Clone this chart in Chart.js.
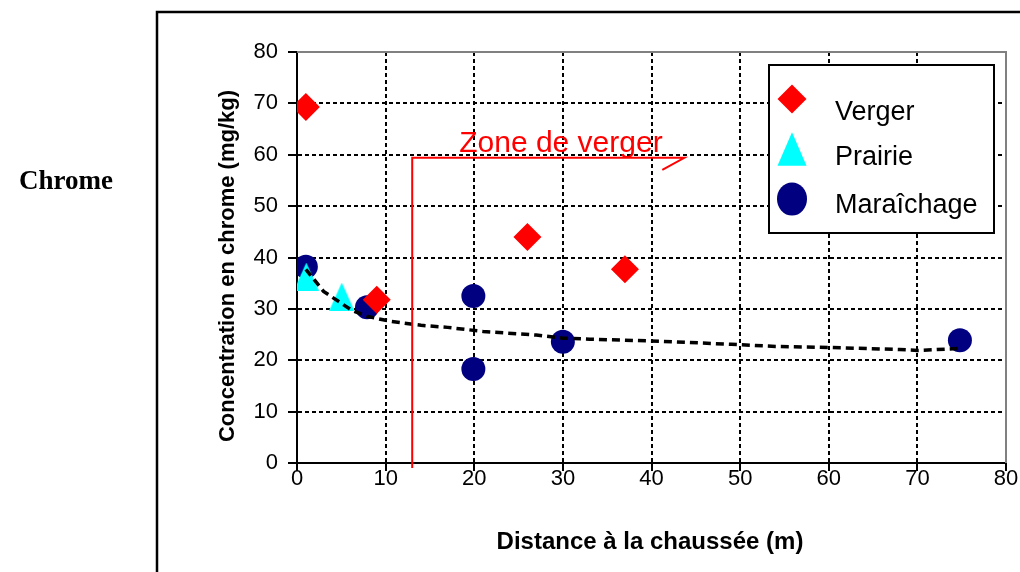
<!DOCTYPE html>
<html>
<head>
<meta charset="utf-8">
<script src="https://cdn.jsdelivr.net/npm/chart.js@4/dist/chart.umd.min.js"></script>
<style>
  body { margin: 0; background: #fff; }
  canvas { display: block; }
</style>
</head>
<body>
<canvas id="mychart" width="1020" height="572"></canvas>
<script>
// data
var xTicks = [0, 10, 20, 30, 40, 50, 60, 70, 80];
var yTicks = [0, 10, 20, 30, 40, 50, 60, 70, 80];

var vergerX = [1, 9, 26, 37];
var vergerY = [69.3, 31.8, 44, 37.7];

var prairieX = [1.05, 5.05];
var prairieY = [36.3, 32.4];

var maraichageX = [1, 7.9, 19.9, 19.9, 30, 74.8];
var maraichageY = [38.2, 30.3, 32.5, 18.3, 23.6, 23.9];

// dashed trend line
var trendX = [1, 3, 6.2, 8, 10.5, 14, 17, 21, 27, 30, 33, 41, 49, 54, 60, 68, 70, 75];
var trendY = [37.7, 33.4, 29.7, 28.5, 27.6, 26.8, 26.4, 25.6, 24.9, 24.3, 24.1, 23.7, 23.1, 22.7, 22.5, 22.1, 21.9, 22.3];

// "Zone de verger" annotation (data units)
var zoneX = 13;
var zoneY = 59.4;
var zoneArrowX = 43.7;
var zoneLabelX = 18.3;

var labels = ['Verger', 'Prairie', 'Maraîchage'];
var colorbox = ['#ff0000', '#00ffff', '#000080'];

function toPoints(xs, ys) {
    var pts = [];
    for (var i = 0; i < xs.length; i++) {
        pts.push({ x: xs[i], y: ys[i] });
    }
    return pts;
}

var FONT = '"Liberation Sans", Arial, sans-serif';

// taller-than-wide triangle like the original marker
function triangleImage(w, h, color) {
    var c = document.createElement('canvas');
    c.width = w;
    c.height = h;
    var g = c.getContext('2d');
    g.fillStyle = color;
    g.beginPath();
    g.moveTo(w / 2, 0);
    g.lineTo(w, h);
    g.lineTo(0, h);
    g.closePath();
    g.fill();
    return c;
}

function drawMarker(ctx, style, x, y, r, color) {
    ctx.save();
    ctx.fillStyle = color;
    ctx.beginPath();
    if (style == 'rectRot') {
        ctx.moveTo(x, y - r);
        ctx.lineTo(x + r, y);
        ctx.lineTo(x, y + r);
        ctx.lineTo(x - r, y);
    } else if (style == 'triangle') {
        ctx.moveTo(x, y - r * 1.15);
        ctx.lineTo(x + r, y + r * 1.15);
        ctx.lineTo(x - r, y + r * 1.15);
    } else {
        ctx.ellipse(x, y, r, r * 1.1, 0, 0, Math.PI * 2);
    }
    ctx.closePath();
    ctx.fill();
    ctx.restore();
}

var decorPlugin = {
    id: 'decor',
    beforeDatasetsDraw: function (chart) {
        var ctx = chart.ctx;
        var a = chart.chartArea;
        // grey plot border, top and right
        ctx.save();
        ctx.strokeStyle = '#808080';
        ctx.lineWidth = 2;
        ctx.beginPath();
        ctx.moveTo(a.left, a.top);
        ctx.lineTo(a.right, a.top);
        ctx.lineTo(a.right, a.bottom);
        ctx.stroke();
        ctx.restore();
    },
    afterDatasetsDraw: function (chart) {
        var ctx = chart.ctx;
        var xs = chart.scales.x;
        var ys = chart.scales.y;
        var px = xs.getPixelForValue(zoneX);
        var py = ys.getPixelForValue(zoneY);
        var pe = xs.getPixelForValue(zoneArrowX);

        ctx.save();
        ctx.strokeStyle = '#ff0000';
        ctx.lineWidth = 2;
        ctx.beginPath();
        ctx.moveTo(px, chart.chartArea.bottom + 5);
        ctx.lineTo(px, py);
        ctx.lineTo(pe, py);
        ctx.lineTo(pe - 22, py + 12);
        ctx.stroke();

        ctx.fillStyle = '#ff0000';
        ctx.font = '30px ' + FONT;
        ctx.textAlign = 'left';
        ctx.textBaseline = 'alphabetic';
        ctx.fillText('Zone de verger', xs.getPixelForValue(zoneLabelX), py - 6);
        ctx.restore();
    },
    afterDraw: function (chart) {
        var ctx = chart.ctx;
        ctx.save();

        // outer frame
        ctx.strokeStyle = '#000';
        ctx.lineWidth = 2.5;
        ctx.beginPath();
        ctx.moveTo(157, 572);
        ctx.lineTo(157, 12);
        ctx.lineTo(1020, 12);
        ctx.stroke();

        // side label
        ctx.fillStyle = '#000';
        ctx.font = 'bold 27px "Liberation Serif", "Times New Roman", serif';
        ctx.textAlign = 'right';
        ctx.textBaseline = 'middle';
        ctx.fillText('Chrome', 113, 182);

        // axis titles
        ctx.font = 'bold 24px ' + FONT;
        ctx.textAlign = 'center';
        ctx.fillText('Distance à la chaussée (m)', 650, 542);

        ctx.save();
        ctx.translate(228, 266);
        ctx.rotate(-Math.PI / 2);
        ctx.font = 'bold 22px ' + FONT;
        ctx.fillText('Concentration en chrome (mg/kg)', 0, 0);
        ctx.restore();

        // legend box
        ctx.fillStyle = '#fff';
        ctx.fillRect(769, 65, 225, 168);
        ctx.strokeStyle = '#000';
        ctx.lineWidth = 2;
        ctx.strokeRect(769, 65, 225, 168);

        var ds = chart.data.datasets;
        var styles = ['rectRot', 'triangle', 'circle'];
        var markerY = [99, 149, 199];
        var textY = [120, 165, 213];
        var radii = [14.5, 14.5, 15];
        ctx.font = '27px ' + FONT;
        ctx.textAlign = 'left';
        ctx.textBaseline = 'alphabetic';
        for (var i = 0; i < 3; i++) {
            drawMarker(ctx, styles[i], 792, markerY[i], radii[i], ds[i].backgroundColor);
            ctx.fillStyle = '#000';
            ctx.fillText(ds[i].label, 835, textY[i]);
        }
        ctx.restore();
    }
};

function gridColor(context) {
    if (context.tick && context.tick.value == 80) return 'rgba(0,0,0,0)';
    return '#000';
}

let ctx = document.getElementById('mychart').getContext('2d');

let mychart = new Chart(ctx, {
    type: 'scatter',
    data: {
        datasets: [{
            label: labels[0],
            data: toPoints(vergerX, vergerY),
            pointStyle: 'rectRot',
            pointRadius: 14,
            backgroundColor: colorbox[0],
            borderColor: colorbox[0],
            borderWidth: 0,
            order: 1
        }, {
            label: labels[1],
            data: toPoints(prairieX, prairieY),
            pointStyle: triangleImage(25, 28, colorbox[1]),
            pointRadius: 14,
            backgroundColor: colorbox[1],
            borderColor: colorbox[1],
            borderWidth: 0,
            order: 2
        }, {
            label: labels[2],
            data: toPoints(maraichageX, maraichageY),
            pointStyle: 'circle',
            pointRadius: 12,
            backgroundColor: colorbox[2],
            borderColor: colorbox[2],
            borderWidth: 0,
            order: 3
        }, {
            label: 'trend',
            data: toPoints(trendX, trendY),
            showLine: true,
            pointRadius: 0,
            borderColor: '#000',
            borderWidth: 3.5,
            borderDash: [8, 5],
            fill: false,
            order: 0
        }]
    },
    options: {
        responsive: false,
        animation: false,
        devicePixelRatio: 1,
        events: [],
        layout: {
            padding: { left: 0, top: 52, right: 12, bottom: 0 }
        },
        scales: {
            x: {
                type: 'linear',
                min: 0,
                max: 80,
                afterBuildTicks: function (scale) {
                    scale.ticks = xTicks.map(function (v) { return { value: v }; });
                },
                afterFit: function (scale) { scale.height = 109; },
                grid: {
                    color: gridColor,
                    lineWidth: 2,
                    tickColor: '#000',
                    tickWidth: 2,
                    tickLength: 8
                },
                border: { display: true, color: '#000', width: 2, dash: [4, 3] },
                ticks: {
                    color: '#000',
                    padding: -5,
                    maxRotation: 0,
                    font: { family: FONT, size: 22 }
                }
            },
            y: {
                type: 'linear',
                min: 0,
                max: 80,
                afterBuildTicks: function (scale) {
                    scale.ticks = yTicks.map(function (v) { return { value: v }; });
                },
                afterFit: function (scale) { scale.width = 297; },
                grid: {
                    color: gridColor,
                    lineWidth: 2,
                    tickColor: '#000',
                    tickWidth: 2,
                    tickLength: 9
                },
                border: { display: true, color: '#000', width: 2, dash: [4, 3] },
                ticks: {
                    color: '#000',
                    padding: 10,
                    font: { family: FONT, size: 22 }
                }
            }
        },
        plugins: {
            legend: { display: false },
            tooltip: { enabled: false }
        }
    },
    plugins: [decorPlugin]
});
</script>
</body>
</html>
